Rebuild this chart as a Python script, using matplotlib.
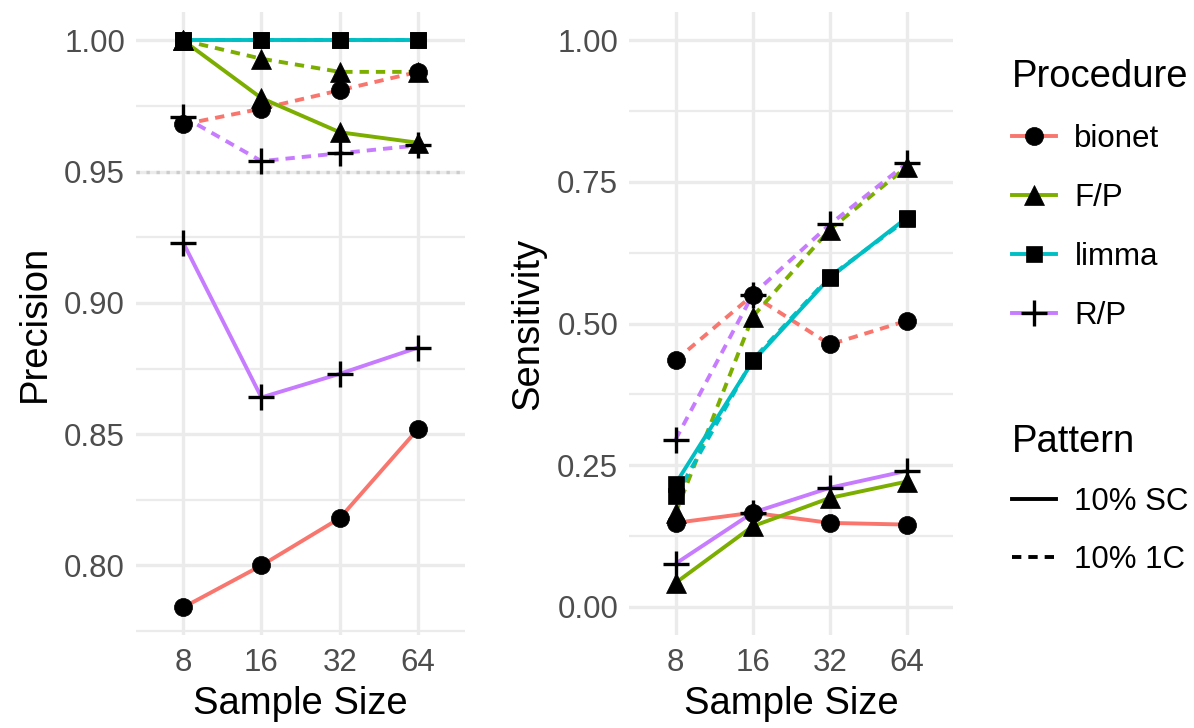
import matplotlib.pyplot as plt
from matplotlib.lines import Line2D
import numpy as np

plt.rcParams['font.family'] = ['Liberation Sans', 'DejaVu Sans']

sizes = ["8", "16", "32", "64"]
procedures = ["bionet", "F/P", "limma", "R/P"]
patterns = ["10% SC", "10% 1C"]

# precision, per procedure: (10% SC, 10% 1C)
prec_bionet = ([0.784, 0.800, 0.818, 0.852], [0.968, 0.974, 0.981, 0.988])
prec_fp = ([1.000, 0.978, 0.965, 0.961], [1.000, 0.993, 0.988, 0.988])
prec_limma = ([1.000, 1.000, 1.000, 1.000], [1.000, 1.000, 1.000, 1.000])
prec_rp = ([0.923, 0.864, 0.873, 0.883], [0.971, 0.954, 0.957, 0.960])

# sensitivity
sens_bionet = ([0.148, 0.166, 0.148, 0.145], [0.435, 0.550, 0.463, 0.505])
sens_fp = ([0.042, 0.142, 0.192, 0.221], [0.165, 0.512, 0.666, 0.777])
sens_limma = ([0.217, 0.433, 0.581, 0.687], [0.195, 0.436, 0.583, 0.684])
sens_rp = ([0.076, 0.166, 0.210, 0.240], [0.295, 0.551, 0.675, 0.783])

colors = {"bionet": "#F8766D", "F/P": "#7CAE00", "limma": "#00BFC4", "R/P": "#C77CFF"}
markers = {"bionet": ("o", 13), "F/P": ("^", 15), "limma": ("s", 12), "R/P": ("+", 19)}
LW = 2.8
dash = (2.4, 1.8)

prec = dict(zip(procedures, [prec_bionet, prec_fp, prec_limma, prec_rp]))
sens = dict(zip(procedures, [sens_bionet, sens_fp, sens_limma, sens_rp]))

fig = plt.figure(figsize=(11.94, 7.28), dpi=100)
ax1 = fig.add_axes([0.114, 0.1277, 0.2755, 0.8558])
ax2 = fig.add_axes([0.527, 0.1277, 0.2714, 0.8558])

x = np.arange(1, len(sizes) + 1)


def draw(ax, data):
    for p in procedures:
        for k, pat in enumerate(patterns):
            ln, = ax.plot(x, data[p][k], color=colors[p], lw=LW, zorder=3,
                          solid_capstyle='butt')
            if k == 1:
                ln.set_dashes(dash)
    for p in procedures:
        m, ms = markers[p]
        for k in range(2):
            ax.plot(x, data[p][k], ls='none', marker=m, ms=ms, color='black',
                    mew=2.4 if m == '+' else 0.5, zorder=4)


def style(ax, ylim, major, minor, ylabel):
    ax.set_xlim(0.4, 4.6)
    ax.set_ylim(*ylim)
    ax.set_xticks(x)
    ax.set_xticklabels(sizes)
    ax.set_yticks(major)
    ax.set_yticklabels([f"{v:.2f}" for v in major])
    ax.set_yticks(minor, minor=True)
    for s in ax.spines.values():
        s.set_visible(False)
    ax.tick_params(which='both', length=0, labelsize=22.5, labelcolor='#4D4D4D')
    ax.tick_params(axis='y', pad=8)
    ax.tick_params(axis='x', pad=9)
    ax.grid(True, which='major', color='#EBEBEB', lw=2.4, zorder=0)
    ax.grid(True, which='minor', axis='y', color='#EBEBEB', lw=1.6, zorder=0)
    ax.set_axisbelow(True)
    ax.set_xlabel("Sample Size", fontsize=27.5, labelpad=6)
    ax.set_ylabel(ylabel, fontsize=27.5, labelpad=8)


draw(ax1, prec)
ax1.axhline(0.95, color='#CCCCCC', lw=2.4, ls=(0, (1, 2)), zorder=1)
style(ax1, (0.7735, 1.0108), [0.80, 0.85, 0.90, 0.95, 1.00],
      [0.775, 0.825, 0.875, 0.925, 0.975], "Precision")

draw(ax2, sens)
style(ax2, (-0.05, 1.05), [0.00, 0.25, 0.50, 0.75, 1.00],
      [0.125, 0.375, 0.625, 0.875], "Sensitivity")

# legends
proc_handles = []
for p in procedures:
    m, ms = markers[p]
    proc_handles.append(Line2D([], [], color=colors[p], lw=LW, marker=m, ms=ms,
                               mfc='black', mec='black',
                               mew=2.4 if m == '+' else 0.5))
pat_handles = [Line2D([], [], color='black', lw=LW),
               Line2D([], [], color='black', lw=LW, dashes=dash)]

leg1 = fig.legend(proc_handles, procedures, title="Procedure", loc='upper left',
                  bbox_to_anchor=(0.837, 0.936), frameon=False, fontsize=22.5,
                  title_fontsize=27.5, handlelength=1.4, handletextpad=0.6,
                  labelspacing=0.93, alignment='left', borderaxespad=0)
leg2 = fig.legend(pat_handles, patterns, title="Pattern", loc='upper left',
                  bbox_to_anchor=(0.837, 0.435), frameon=False, fontsize=22.5,
                  title_fontsize=27.5, handlelength=1.4, handletextpad=0.6,
                  labelspacing=0.88, alignment='left', borderaxespad=0)

fig.savefig("out.png", dpi=100)
